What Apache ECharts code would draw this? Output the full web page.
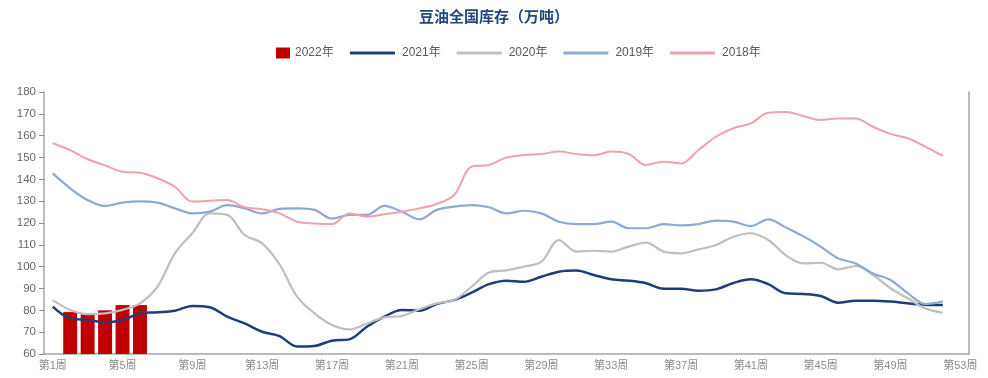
<!DOCTYPE html>
<html>
<head>
<meta charset="utf-8">
<script src="https://cdn.jsdelivr.net/npm/echarts@6/dist/echarts.min.js"></script>
<style>
html,body{margin:0;padding:0;background:#fff;}
#c{width:988px;height:378px;}
</style>
</head>
<body>
<div id="c"></div>
<script>
const weeks = [];
for (let i = 1; i <= 53; i++) weeks.push('第' + i + '周');

const s2022 = [null, 79.2, 78.2, 80.0, 82.4, 82.4];

const s2021 = [81.7, 76.3, 75.6, 74.5, 75.6, 78.6, 79.1, 79.8, 82.0, 81.4,
  77.1, 74.0, 70.2, 68.2, 63.4, 63.7, 66.1, 66.7, 72.5, 77.1,
  80.2, 79.8, 82.9, 84.7, 88.1, 92.0, 93.6, 93.1, 95.4, 97.7,
  98.2, 96.2, 94.2, 93.6, 92.4, 89.9, 89.9, 89.0, 89.6, 92.5,
  94.2, 92.0, 87.8, 87.5, 86.6, 83.5, 84.4, 84.4, 84.0, 83.2,
  82.6, 82.4];

const s2020 = [84.7, 80.2, 78.3, 78.6, 80.2, 83.2, 90.8, 106.1, 115.3, 124.4,
  123.7, 114.5, 110.7, 101.0, 86.3, 78.6, 73.3, 71.3, 74.0, 76.8,
  77.4, 80.5, 83.2, 84.7, 90.8, 97.3, 98.3, 100.0, 102.3, 112.2,
  106.9, 107.3, 106.9, 109.2, 111.0, 106.9, 106.1, 107.9, 109.9, 113.7,
  115.3, 112.2, 105.3, 101.5, 101.8, 98.8, 100.3, 96.2, 90.1, 85.5,
  80.9, 78.9];

const s2019 = [142.7, 135.9, 130.5, 127.8, 129.3, 129.9, 129.3, 126.7, 124.4, 125.2,
  128.2, 126.7, 124.4, 126.5, 126.7, 126.0, 122.0, 123.7, 123.7, 127.8,
  125.2, 121.7, 126.0, 127.5, 128.2, 127.2, 124.4, 125.6, 124.4, 120.6,
  119.5, 119.5, 120.6, 117.6, 117.6, 119.5, 118.9, 119.5, 121.1, 120.6,
  118.6, 121.7, 118.0, 114.0, 109.2, 103.8, 101.5, 96.9, 93.9, 87.8,
  82.9, 84.1];

const s2018 = [156.5, 153.4, 149.2, 146.4, 143.5, 143.0, 140.5, 136.6, 129.8, 130.2,
  130.5, 127.2, 126.3, 124.4, 120.6, 119.8, 119.5, 124.4, 122.9, 124.0,
  125.2, 126.7, 128.7, 132.8, 145.8, 146.6, 150.0, 151.1, 151.6, 152.7,
  151.6, 151.0, 152.7, 151.6, 146.6, 148.1, 147.3, 153.4, 159.5, 163.4,
  165.6, 170.5, 170.8, 169.0, 167.2, 167.9, 167.9, 164.1, 160.8, 158.8,
  155.0, 150.7];

const names = ['2022年', '2021年', '2020年', '2019年', '2018年'];
const colors = ['#c00000', '#1f3d7a', '#bfbfbf', '#8eaad0', '#f2a0aa'];

const chart = echarts.init(document.getElementById('c'));
const lineSeries = (name, data, color, width) => ({
  name: name, type: 'line', data: data, symbol: 'none', smooth: 0.35,
  lineStyle: { color: color, width: width }, itemStyle: { color: color }, z: 3
});

const legendText = { fontFamily: 'Liberation Sans, Noto Sans CJK SC', fontSize: 12, color: '#595959' };

chart.setOption({
  animation: false,
  backgroundColor: '#fff',
  title: {
    text: '豆油全国库存（万吨）', left: 'center', top: 4,
    textStyle: { fontFamily: 'Noto Sans CJK SC', fontSize: 15, fontWeight: 'bold', color: '#24457d' }
  },
  legend: [{
    data: [{ name: names[0], icon: 'rect' }], left: 271, top: 42, itemWidth: 14, itemHeight: 11, itemGap: 15,
    textStyle: legendText
  }, {
    data: names.slice(1).map(n => ({ name: n, icon: 'rect' })), left: 345, top: 42,
    itemWidth: 45, itemHeight: 3, itemGap: 16,
    textStyle: Object.assign({}, legendText, { padding: [0, 0, 0, 2] })
  }],
  grid: { left: 44, right: 19, top: 92, bottom: 24 },
  xAxis: {
    type: 'category', data: weeks, boundaryGap: true,
    axisLine: { lineStyle: { color: '#a6a6a6', width: 1.5 } },
    axisTick: { interval: 3, length: 4, lineStyle: { color: '#8c8c8c' } },
    axisLabel: { interval: 3, margin: 6, fontSize: 11, color: '#8c8c8c',
      fontFamily: 'Liberation Sans, Noto Sans CJK SC' }
  },
  yAxis: [{
    type: 'value', min: 60, max: 180, interval: 10,
    splitLine: { show: false },
    axisLine: { show: true, lineStyle: { color: '#a6a6a6', width: 1.5 } },
    axisTick: { show: true, length: 5, lineStyle: { color: '#8c8c8c' } },
    axisLabel: { fontSize: 11.5, color: '#666', margin: 8, fontFamily: 'Liberation Sans' }
  }, {
    type: 'value', min: 60, max: 180, interval: 10, position: 'right',
    splitLine: { show: false },
    axisLine: { show: true, lineStyle: { color: '#a6a6a6', width: 1.5 } },
    axisTick: { show: false }, axisLabel: { show: false }
  }],
  series: [
    { name: names[0], type: 'bar', data: s2022, barWidth: '80%', z: 1,
      itemStyle: { color: colors[0] } },
    lineSeries(names[1], s2021, colors[1], 2.5),
    lineSeries(names[2], s2020, colors[2], 2.2),
    lineSeries(names[3], s2019, colors[3], 2.2),
    lineSeries(names[4], s2018, colors[4], 2)
  ]
});
</script>
</body>
</html>
